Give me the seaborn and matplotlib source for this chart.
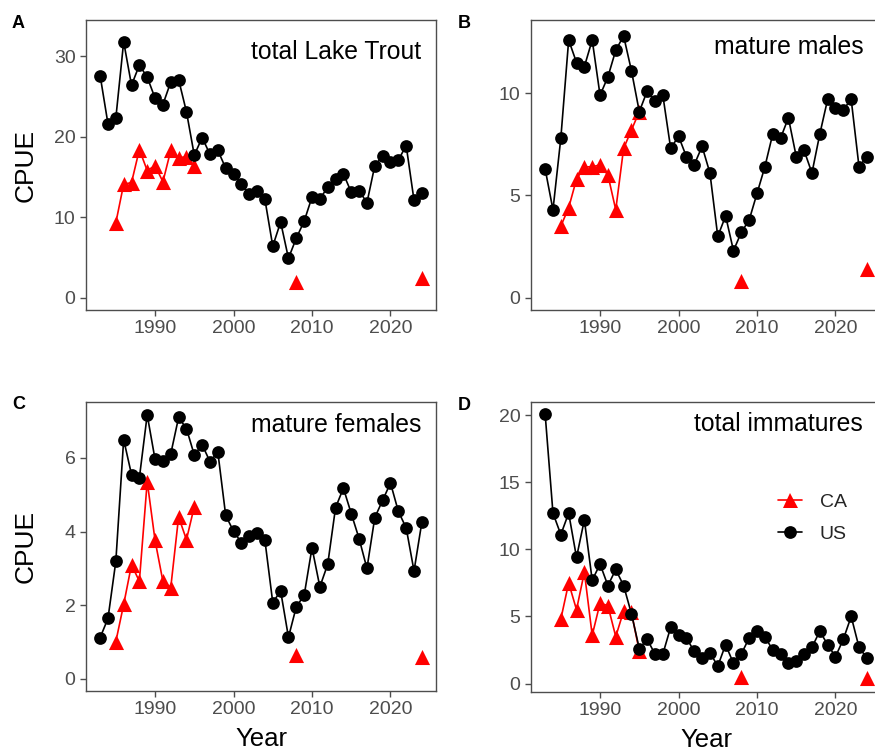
import matplotlib
matplotlib.use("Agg")
import matplotlib.pyplot as plt
import numpy as np
import pandas as pd
import seaborn as sns
from matplotlib.lines import Line2D

sns.set_theme(style="white")
plt.rcParams["font.family"] = ["Liberation Sans", "DejaVu Sans"]

# ---- survey years ----
us_years = list(range(1983, 2025))
ca_years = list(range(1985, 1996)) + [2008, 2024]

# ---- CPUE by group ----
us_total = [27.6, 21.6, 22.3, 31.8, 26.4, 28.9, 27.4, 24.8, 24.0, 26.8, 27.1, 23.1,
            17.7, 19.9, 17.8, 18.3, 16.1, 15.4, 14.1, 12.9, 13.3, 12.2, 6.4, 9.4,
            4.9, 7.4, 9.5, 12.5, 12.3, 13.7, 14.8, 15.4, 13.1, 13.3, 11.8, 16.4,
            17.6, 16.8, 17.1, 18.9, 12.1, 13.0]
ca_total = [9.3, 14.1, 14.3, 18.4, 15.8, 16.4, 14.4, 18.3, 17.4, 17.5, 16.3, 2.0, 2.4]

us_males = [6.3, 4.3, 7.8, 12.6, 11.5, 11.3, 12.6, 9.9, 10.8, 12.1, 12.8, 11.1,
            9.1, 10.1, 9.6, 9.9, 7.3, 7.9, 6.9, 6.5, 7.4, 6.1, 3.0, 4.0,
            2.3, 3.2, 3.8, 5.1, 6.4, 8.0, 7.8, 8.8, 6.9, 7.2, 6.1, 8.0,
            9.7, 9.3, 9.2, 9.7, 6.4, 6.9]
ca_males = [3.5, 4.4, 5.8, 6.4, 6.4, 6.5, 6.0, 4.3, 7.3, 8.2, 9.1, 0.8, 1.4]

us_females = [1.12, 1.64, 3.19, 6.5, 5.55, 5.46, 7.17, 5.96, 5.91, 6.11, 7.1, 6.8,
              6.08, 6.36, 5.9, 6.16, 4.44, 4.01, 3.7, 3.88, 3.96, 3.76, 2.07, 2.39,
              1.13, 1.96, 2.27, 3.56, 2.5, 3.11, 4.65, 5.18, 4.49, 3.81, 3.0, 4.38,
              4.85, 5.32, 4.55, 4.1, 2.93, 4.26]
ca_females = [1.01, 2.02, 3.1, 2.65, 5.36, 3.76, 2.65, 2.48, 4.4, 3.78, 4.68, 0.65, 0.6]

us_immature = [20.1, 12.7, 11.1, 12.7, 9.4, 12.2, 7.7, 8.9, 7.3, 8.5, 7.3, 5.2,
               2.6, 3.3, 2.2, 2.2, 4.2, 3.6, 3.4, 2.4, 1.9, 2.3, 1.3, 2.9,
               1.5, 2.2, 3.4, 3.9, 3.5, 2.5, 2.2, 1.5, 1.7, 2.2, 2.7, 3.9,
               2.9, 2.0, 3.3, 5.0, 2.7, 1.9]
ca_immature = [4.8, 7.5, 5.5, 8.3, 3.6, 6.0, 5.8, 3.5, 5.4, 5.3, 2.4, 0.5, 0.45]

panel_letters = ["A", "B", "C", "D"]
panel_titles = ["total Lake Trout", "mature males", "mature females", "total immatures"]
year_ticks = [1990, 2000, 2010, 2020]
cpue_ticks = [[0, 10, 20, 30], [0, 5, 10], [0, 2, 4, 6], [0, 5, 10, 15, 20]]

COLORS = {"CA": "#FF0000", "US": "#000000"}
FRAME = "#4D4D4D"
TICKLAB = "#4D4D4D"


def ca_segment(year):
    # CA survey runs are only joined within a contiguous block of years
    if year <= 1995:
        return "CA-1"
    return f"CA-{year}"


def build_frame(us_vals, ca_vals):
    us = pd.DataFrame({"Year": us_years, "CPUE": us_vals, "Region": "US", "seg": "US"})
    ca = pd.DataFrame({"Year": ca_years, "CPUE": ca_vals, "Region": "CA",
                       "seg": [ca_segment(y) for y in ca_years]})
    return pd.concat([ca, us], ignore_index=True)


frames = [build_frame(us_total, ca_total), build_frame(us_males, ca_males),
          build_frame(us_females, ca_females), build_frame(us_immature, ca_immature)]

W, H = 875, 751
fig = plt.figure(figsize=(W / 100, H / 100), dpi=100)
fig.patch.set_facecolor("white")

# panel boxes in pixels: left, top, width, height
boxes = [(86, 20, 350, 290), (531, 20, 350, 290),
         (86, 402, 350, 289), (531, 402, 350, 290)]
ylims = [(-1.53, 34.5), (-0.6, 13.58), (-0.33, 7.52), (-0.63, 20.98)]
title_pos = [(0.957, 0.866), (0.949, 0.883), (0.957, 0.896), (0.949, 0.90)]
letter_pos = [(12, 28), (458, 28), (12, 409), (458, 410)]

axes = []
for i, (l, t, w, h) in enumerate(boxes):
    ax = fig.add_axes([l / W, (H - t - h) / H, w / W, h / H])
    axes.append(ax)
    df = frames[i]

    sns.lineplot(data=df, x="Year", y="CPUE", hue="Region", units="seg",
                 estimator=None, palette=COLORS, hue_order=["CA", "US"],
                 linewidth=1.2, legend=False, ax=ax, sort=True)
    sns.scatterplot(data=df[df.Region == "CA"], x="Year", y="CPUE", marker="^",
                    color=COLORS["CA"], s=118, linewidth=0, legend=False, ax=ax, zorder=3)
    sns.scatterplot(data=df[df.Region == "US"], x="Year", y="CPUE", marker="o",
                    color=COLORS["US"], s=84, linewidth=0, legend=False, ax=ax, zorder=3)

    ax.set_xlim(1981.2, 2025.8)
    ax.set_ylim(*ylims[i])
    ax.set_xticks(year_ticks)
    ax.set_yticks(cpue_ticks[i])
    ax.grid(False)
    ax.set_facecolor("white")
    for sp in ax.spines.values():
        sp.set_visible(True)
        sp.set_color(FRAME)
        sp.set_linewidth(1.0)
    ax.tick_params(axis="both", direction="out", length=4.5, width=1.0,
                   color=FRAME, labelcolor=TICKLAB, labelsize=14, pad=3,
                   bottom=True, left=True)

    ax.set_xlabel("Year" if i >= 2 else "", fontsize=18.5, color="black")
    ax.set_ylabel("CPUE" if i % 2 == 0 else "", fontsize=19, color="black")
    ax.yaxis.set_label_coords(-0.137, 0.5)
    ax.xaxis.set_label_coords(0.5, -0.125)

    tx, ty = title_pos[i]
    ax.text(tx, ty, panel_titles[i], transform=ax.transAxes, ha="right",
            va="baseline", fontsize=17.8, color="black")

    lx, ly = letter_pos[i]
    fig.text(lx / W, 1 - ly / H, panel_letters[i], ha="left", va="baseline",
             fontsize=13, fontweight="bold", color="black")

handles = [
    Line2D([], [], color=COLORS["CA"], marker="^", markersize=10.8, linewidth=1.2,
           markeredgewidth=0, label="CA"),
    Line2D([], [], color=COLORS["US"], marker="o", markersize=9.2, linewidth=1.2,
           markeredgewidth=0, label="US"),
]
axes[3].legend(handles=handles, loc="upper left", bbox_to_anchor=(0.706, 0.685),
               frameon=False, fontsize=14, handlelength=1.25, handletextpad=0.9,
               labelspacing=0.75, borderpad=0, borderaxespad=0)

fig.savefig("out.png", dpi=100, facecolor="white")
